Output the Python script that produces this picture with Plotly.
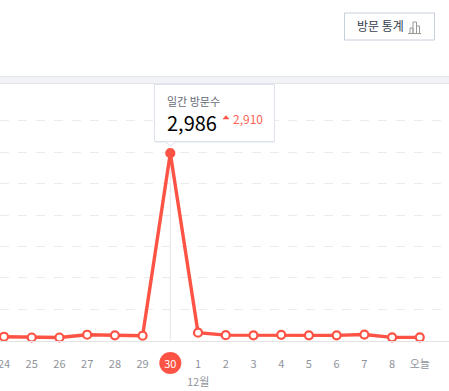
import plotly.graph_objects as go

days = ["24", "25", "26", "27", "28", "29", "30", "1", "2", "3", "4", "5", "6", "7", "8", "오늘"]
visits = [60, 48, 48, 92, 82, 76, 2986, 125, 85, 82, 90, 82, 82, 95, 50, 50]
grid_values = [500, 1000, 1500, 2000, 2500, 3000, 3500]
peak_index = 6

W, H = 449, 391
TOP, BOTTOM = 84, 341
RED = "#fd5345"
FONT = "Noto Sans CJK KR, Noto Sans, sans-serif"
idx = list(range(len(days)))


def px(v):
    return v / W


def py(v):
    return (BOTTOM - v) / (BOTTOM - TOP)


shapes = []
annots = []


def rect(x0, y0, x1, y1, fill, line=None, lw=1):
    shapes.append(dict(type="rect", xref="paper", yref="paper", layer="above",
                       x0=px(x0), x1=px(x1), y0=py(y0), y1=py(y1), fillcolor=fill,
                       line=dict(color=line or fill, width=lw if line else 0)))


def seg(pts, color, lw=1, fill=None):
    d = "M" + " L".join(f"{px(a)},{py(b)}" for a, b in pts)
    if fill:
        d += " Z"
    shapes.append(dict(type="path", xref="paper", yref="paper", layer="above", path=d,
                       fillcolor=fill, line=dict(color=color, width=lw)))


def text(x, y, s, size, color, anchor="left"):
    annots.append(dict(xref="paper", yref="paper", x=px(x), y=py(y), text=s, showarrow=False,
                       xanchor=anchor, yanchor="middle", borderpad=0, xshift=0, yshift=0,
                       font=dict(size=size, color=color, family=FONT)))


# separator band
rect(0, 76.5, W, 83.5, "#f2f3f7")
seg([(0, 76.5), (W, 76.5)], "#e1e6f0")
seg([(0, 83.5), (W, 83.5)], "#e3e4e8")

# button
rect(344.5, 13, 434.5, 40, "#ffffff", "#c5d0dc", 1)
text(380, 26, "방문 통계", 12, "#36404f", "center")
seg([(408, 33.5), (421, 33.5)], "#9a9a9a")
seg([(410, 33.5), (410, 28), (413, 28), (413, 33.5)], "#9a9a9a")
seg([(413, 33.5), (413, 22), (416.5, 22), (416.5, 33.5)], "#9a9a9a")
seg([(416.5, 33.5), (416.5, 26), (419.5, 26), (419.5, 33.5)], "#9a9a9a")

# tooltip
rect(155, 85, 275, 143, "#edf0f6", None)
rect(154.5, 84.5, 274.5, 141.5, "#ffffff", "#dde2ee", 1)
seg([(165, 141.5), (170.5, 146), (176, 141.5)], "#dde2ee", 1, "#ffffff")
text(166, 101, "일간 방문수", 11, "#666b75")
text(166, 122, "2,986", 20, "#000000")
seg([(223, 119), (226, 115.5), (229, 119)], RED, 0.5, RED)
text(232, 118, "2,910", 12, "#fd6155")

# today's date highlight, behind its tick label
shapes.append(dict(type="circle", xref="x", yref="paper", layer="below", xsizemode="pixel",
                   ysizemode="pixel", xanchor=peak_index, yanchor=py(363),
                   x0=-11, x1=11, y0=-11, y1=11, fillcolor=RED, line=dict(width=0)))
# guide line at the peak
shapes.append(dict(type="line", xref="x", yref="y", layer="below", x0=peak_index, x1=peak_index,
                   y0=0, y1=visits[peak_index], line=dict(color="#e4e4e4", width=1)))

annots.append(dict(xref="x", yref="paper", x=peak_index + 1, y=py(380.5), text="12월", showarrow=False,
                   xanchor="center", yanchor="middle",
                   font=dict(size=11, color="#8f939b", family=FONT)))
# first label overhangs the left edge, so plotly would drop it as a tick label
annots.append(dict(xref="x", yref="paper", x=0, y=py(363), text=days[0], showarrow=False,
                   xanchor="center", yanchor="middle",
                   font=dict(size=11, color="#8f939b", family=FONT)))

marker_colors = ["#ffffff"] * len(days)
marker_colors[peak_index] = RED

fig = go.Figure(go.Scatter(
    x=idx, y=visits, mode="lines+markers",
    line=dict(color=RED, width=3.4),
    marker=dict(size=8, color=marker_colors, line=dict(color=RED, width=2.2)),
    cliponaxis=False, hoverinfo="skip",
))

ticktext = list(days)
ticktext[peak_index] = f"<span style='color:#ffffff'>{days[peak_index]}</span>"

STEP = 27.72
X0 = 4.0
fig.update_layout(
    width=W, height=H, margin=dict(l=0, r=0, t=TOP, b=H - BOTTOM),
    paper_bgcolor="#ffffff", plot_bgcolor="#ffffff", showlegend=False,
    font=dict(family=FONT),
    shapes=shapes, annotations=annots,
    xaxis=dict(range=[-X0 / STEP, (W - X0) / STEP], tickmode="array", tickvals=idx, ticktext=ticktext,
               tickfont=dict(size=11, color="#8f939b", family=FONT), tickangle=0, ticks="outside",
               ticklen=13, tickcolor="rgba(0,0,0,0)", tickwidth=0, showgrid=False, showline=True,
               linecolor="#e3e3e3", linewidth=1, zeroline=False, fixedrange=True),
    yaxis=dict(range=[-8, (257 - 0.5) / 0.0626 - 8], tickmode="array", tickvals=grid_values, showticklabels=False,
               showgrid=True, gridcolor="#eaebee", griddash="dash", gridwidth=1, zeroline=False,
               showline=False, ticks="", fixedrange=True),
)

fig.write_html("out.html", config=dict(displayModeBar=False),
               post_script="document.body.style.margin='0';document.documentElement.style.overflow='hidden';")
